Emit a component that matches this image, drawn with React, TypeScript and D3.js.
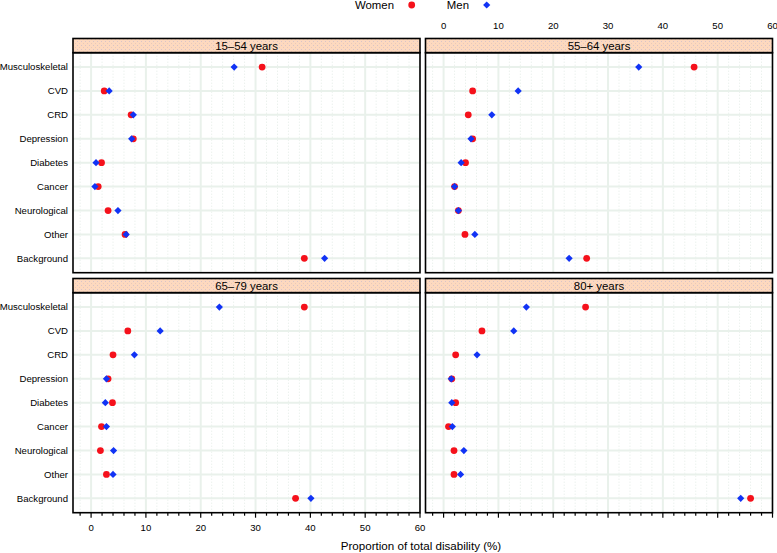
import React from "react";
import * as d3 from "d3";

const categories = ["Musculoskeletal", "CVD", "CRD", "Depression", "Diabetes", "Cancer", "Neurological", "Other", "Background"];
const ageGroups = ["15–54 years", "55–64 years", "65–79 years", "80+ years"];
const seriesNames = ["Women", "Men"];

const women15_54 = [31.2, 2.4, 7.3, 7.7, 1.9, 1.3, 3.1, 6.2, 38.9];
const men15_54 = [26.1, 3.3, 7.7, 7.4, 0.9, 0.7, 4.9, 6.4, 42.6];
const women55_64 = [45.7, 5.3, 4.5, 5.3, 4.0, 2.0, 2.7, 3.9, 26.1];
const men55_64 = [35.6, 13.6, 8.8, 5.0, 3.2, 2.0, 2.7, 5.7, 22.9];
const women65_79 = [38.9, 6.7, 4.0, 3.1, 3.9, 1.9, 1.7, 2.8, 37.3];
const men65_79 = [23.4, 12.6, 7.9, 2.8, 2.6, 2.8, 4.1, 4.0, 40.1];
const women80 = [25.9, 7.0, 2.2, 1.5, 2.2, 0.9, 1.9, 1.9, 56.0];
const men80 = [15.1, 12.8, 6.1, 1.4, 1.5, 1.6, 3.7, 3.1, 54.2];

const xTickLabels = [0, 10, 20, 30, 40, 50, 60];
const xMinorTicks = d3.range(-2, 61, 2);

const womenByGroup = [women15_54, women55_64, women65_79, women80];
const menByGroup = [men15_54, men55_64, men65_79, men80];

const RED = "#f5111b";
const BLUE = "#1133f5";
const FONT = "'Liberation Sans', Arial, Helvetica, sans-serif";

const colX = [73, 425.5];
const panelW = 347;
const rowTop = [38.5, 278.5];
const stripH = 14.2;
const plotH = 220;

function diamond(cx: number, cy: number, r: number) {
  return `M${cx},${cy - r}L${cx + r},${cy}L${cx},${cy + r}L${cx - r},${cy}Z`;
}

function Panel({ gi }: { gi: number }) {
  const col = gi % 2;
  const row = Math.floor(gi / 2);
  const x0 = colX[col];
  const top = rowTop[row];
  const pTop = top + stripH;
  const x = d3.scaleLinear().domain([-3.3, 60]).range([x0, x0 + panelW]);
  const y = d3.scaleLinear().domain([0.4, 9.6]).range([pTop, pTop + plotH]);
  const women = womenByGroup[gi];
  const men = menByGroup[gi];
  const clipId = `clip${gi}`;
  return (
    <g>
      <defs>
        <clipPath id={clipId}>
          <rect x={x0} y={pTop} width={panelW} height={plotH} />
        </clipPath>
      </defs>
      <rect x={x0} y={pTop} width={panelW} height={plotH} fill="#fff" />
      <g clipPath={`url(#${clipId})`}>
        {xMinorTicks.filter((t) => t % 10 !== 0).map((t) => (
          <line key={"m" + t} x1={x(t)} x2={x(t)} y1={pTop} y2={pTop + plotH} stroke="#e2ebe5" strokeWidth={1} strokeDasharray="1,2" />
        ))}
        {xTickLabels.map((t) => (
          <line key={"M" + t} x1={x(t)} x2={x(t)} y1={pTop} y2={pTop + plotH} stroke="#e9f1eb" strokeWidth={2} />
        ))}
        {categories.map((c, i) => (
          <line key={c} x1={x0} x2={x0 + panelW} y1={y(i + 1)} y2={y(i + 1)} stroke="#e9f1eb" strokeWidth={2} />
        ))}
        {women.map((v, i) => (
          <circle key={"w" + i} cx={x(v)} cy={y(i + 1)} r={3.4} fill={RED} />
        ))}
        {men.map((v, i) => (
          <path key={"b" + i} d={diamond(x(v), y(i + 1), 3.6)} fill={BLUE} />
        ))}
      </g>
      <rect x={x0} y={top} width={panelW} height={stripH} fill="url(#stripPat)" stroke="#000" strokeWidth={1.6} />
      <text x={x0 + panelW / 2} y={top + stripH / 2 + 4} textAnchor="middle" fontSize={11.4} fontFamily={FONT} fill="#000">
        {ageGroups[gi]}
      </text>
      <rect x={x0} y={pTop} width={panelW} height={plotH} fill="none" stroke="#000" strokeWidth={1.6} />
      {col === 0 &&
        categories.map((c, i) => (
          <text key={"l" + c} x={x0 - 5} y={y(i + 1) + 3.4} textAnchor="end" fontSize={9.6} fontFamily={FONT} fill="#000">
            {c}
          </text>
        ))}
      {row === 1 &&
        xMinorTicks.map((t) => (
          <line key={"t" + t} x1={x(t)} x2={x(t)} y1={pTop + plotH} y2={pTop + plotH + (t % 10 === 0 ? 5 : 3)} stroke="#000" strokeWidth={1.2} />
        ))}
      {row === 1 && col === 0 &&
        xTickLabels.map((t) => (
          <text key={"bl" + t} x={x(t)} y={531} textAnchor="middle" fontSize={9.6} fontFamily={FONT} fill="#000">
            {t}
          </text>
        ))}
      {row === 0 && col === 1 &&
        xTickLabels.map((t) => (
          <text key={"tl" + t} x={x(t)} y={28.5} textAnchor="middle" fontSize={9.6} fontFamily={FONT} fill="#000">
            {t}
          </text>
        ))}
    </g>
  );
}

export default function App() {
  return (
    <svg width={777} height={553} style={{ position: "absolute", left: 0, top: 0, background: "#fff" }}>
      <defs>
        <pattern id="stripPat" width={4} height={4} patternUnits="userSpaceOnUse">
          <rect width={4} height={4} fill="#fdd9bf" />
          <rect x={1} y={1} width={1} height={1} fill="#d8c4c8" />
          <rect x={3} y={3} width={1} height={1} fill="#e9c9b8" />
        </pattern>
      </defs>
      <rect width={777} height={553} fill="#fff" />
      <text x={394} y={9} textAnchor="end" fontSize={11.4} fontFamily={FONT} fill="#000">{seriesNames[0]}</text>
      <circle cx={411.7} cy={5} r={3.4} fill={RED} />
      <text x={469} y={9} textAnchor="end" fontSize={11.4} fontFamily={FONT} fill="#000">{seriesNames[1]}</text>
      <path d={diamond(486.7, 5, 3.6)} fill={BLUE} />
      {ageGroups.map((g, gi) => (
        <Panel key={g} gi={gi} />
      ))}
      <text x={421} y={550} textAnchor="middle" fontSize={11.6} fontFamily={FONT} fill="#000">
        Proportion of total disability (%)
      </text>
    </svg>
  );
}
